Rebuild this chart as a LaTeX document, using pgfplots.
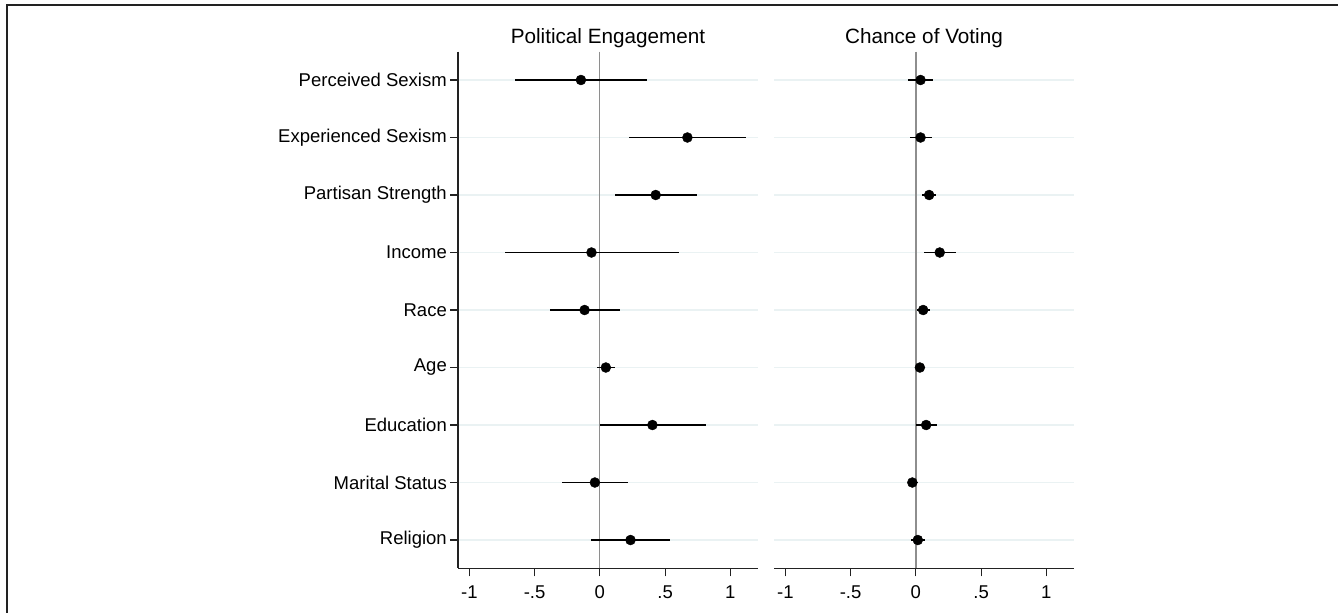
\documentclass[border=0pt]{standalone}
\usepackage{fontspec}
\setmainfont{Liberation Sans}
\usepackage{pgfplots}
\usepackage{pgfplotstable}
\pgfplotsset{compat=1.18}
\definecolor{gridc}{HTML}{EAF2F3}
\definecolor{zeroc}{HTML}{8E8E8E}
\definecolor{axc}{HTML}{222222}

\pgfplotstableread{
row b lo hi
1 -0.145 -0.653 0.360
2 0.671 0.224 1.120
3 0.428 0.113 0.742
4 -0.064 -0.729 0.607
5 -0.117 -0.383 0.153
6 0.046 -0.023 0.115
7 0.403 0.000 0.816
8 -0.038 -0.288 0.212
9 0.235 -0.069 0.541
}\engage

\pgfplotstableread{
row b lo hi
1 0.036 -0.058 0.135
2 0.036 -0.048 0.122
3 0.102 0.049 0.158
4 0.183 0.061 0.308
5 0.056 0.008 0.105
6 0.031 0.005 0.057
7 0.079 0.003 0.160
8 -0.027 -0.061 0.015
9 0.015 -0.038 0.067
}\voting

\pgfplotsset{
 panel/.style={
  scale only axis, width=300bp, height=516.6bp,
  xmin=-1.087, xmax=1.212, ymin=0.508, ymax=9.492, y dir=reverse,
  axis x line*=bottom, axis y line*=left,
  xtick={-1,-0.5,0,0.5,1}, xticklabels={-1,-.5,0,.5,1},
  ytick={1,...,9},
  tick align=outside, major tick length=8bp,
  every tick/.style={axc, line width=1.1bp},
  axis line style={axc, line width=1.1bp},
  ymajorgrids, major grid style={gridc, line width=1.3bp},
  tick label style={font=\fontsize{18.5bp}{22bp}\selectfont, text=black},
  xticklabel style={yshift=-5.5bp},
  title style={font=\fontsize{20.7bp}{24bp}\selectfont, at={(0.5,1)}, anchor=base, yshift=1.8bp},
  extra x ticks={0}, extra x tick labels={},
  extra x tick style={xmajorgrids=true, major grid style={zeroc, line width=1.3bp}, major tick length=0pt},
 },
 ci/.style={only marks, mark=*, mark size=5bp, mark options={fill=black, draw=black},
  error bars/.cd, x dir=both, x explicit, error mark=none,
  error bar style={black, line width=1.8bp}},
}

\begin{document}
\begin{tikzpicture}
\path[use as bounding box] (0,0) rectangle (1338bp,-613bp);
\draw[axc, line width=1.3bp] (7bp,-613bp) -- (7bp,-5bp) -- (1338bp,-5bp);

\begin{axis}[panel, at={(458bp,-568.3bp)}, anchor=south west,
  title={Political Engagement},
  yticklabels={Perceived Sexism, Experienced Sexism, Partisan Strength, Income, Race, Age, Education, Marital Status, Religion},
  yticklabel style={inner sep=3bp}]
\addplot[ci] table[x=b, y=row, x error plus expr=\thisrow{hi}-\thisrow{b}, x error minus expr=\thisrow{b}-\thisrow{lo}] {\engage};
\end{axis}

\begin{axis}[panel, at={(774bp,-568.3bp)}, anchor=south west,
  title={Chance of Voting},
  yticklabels={}, y axis line style={draw=none}, ytick style={draw=none}]
\addplot[ci] table[x=b, y=row, x error plus expr=\thisrow{hi}-\thisrow{b}, x error minus expr=\thisrow{b}-\thisrow{lo}] {\voting};
\end{axis}
\end{tikzpicture}
\end{document}
